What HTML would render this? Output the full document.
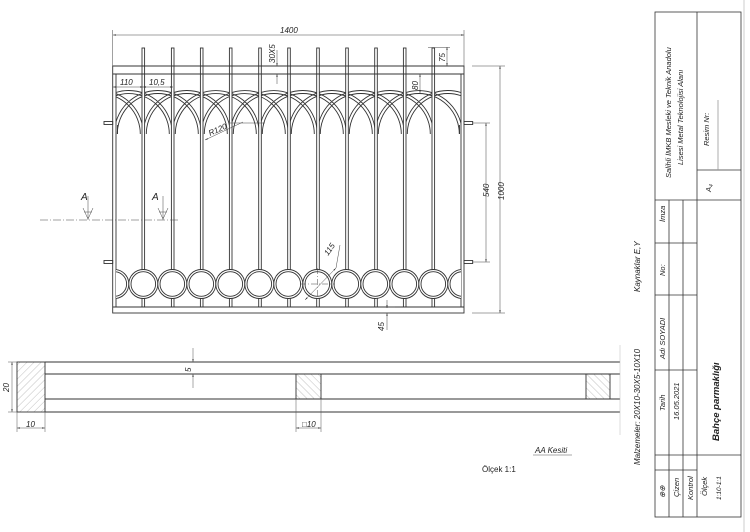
<!DOCTYPE html>
<html><head><meta charset="utf-8"><style>
html,body{margin:0;padding:0;background:#fff}
svg{display:block}
text{font-family:"Liberation Sans",sans-serif;font-style:italic;fill:#222}
</style></head><body>
<svg width="750" height="532" viewBox="0 0 750 532" xmlns="http://www.w3.org/2000/svg">
<defs>
<marker id="a" viewBox="0 0 10 10" refX="10" refY="5" markerWidth="6" markerHeight="6" orient="auto-start-reverse"><path d="M0,3 L10,5 L0,7 z" fill="#222"/></marker>
<clipPath id="in"><rect x="116" y="74" width="345" height="234"/></clipPath>
<pattern id="h1" width="5" height="5" patternUnits="userSpaceOnUse" patternTransform="rotate(45)"><line x1="0" y1="0" x2="0" y2="5" stroke="#999" stroke-width="0.6"/></pattern>
<pattern id="h2" width="5" height="5" patternUnits="userSpaceOnUse" patternTransform="rotate(-45)"><line x1="0" y1="0" x2="0" y2="5" stroke="#999" stroke-width="0.6"/></pattern>
</defs>
<g stroke="#333" stroke-width="0.9" fill="none">
<!-- frame -->
<rect x="112.7" y="66" width="351.3" height="247"/>
<line x1="112.7" y1="74" x2="464" y2="74"/>
<line x1="112.7" y1="307" x2="464" y2="307"/>
<line x1="116" y1="74" x2="116" y2="307"/>
<line x1="461" y1="74" x2="461" y2="307"/>
<!-- tabs -->
<rect x="104" y="121.5" width="8.7" height="3"/>
<rect x="104" y="260.5" width="8.7" height="3"/>
<rect x="464" y="121.5" width="8.7" height="3"/>
<rect x="464" y="260.5" width="8.7" height="3"/>
<!-- arches -->
<g clip-path="url(#in)">
<path d="M56.3,134 A43.5,43.5 0 0 1 143.3,134 M85.3,134 A43.5,43.5 0 0 1 172.3,134 M114.3,134 A43.5,43.5 0 0 1 201.3,134 M143.3,134 A43.5,43.5 0 0 1 230.3,134 M172.3,134 A43.5,43.5 0 0 1 259.3,134 M201.3,134 A43.5,43.5 0 0 1 288.3,134 M230.3,134 A43.5,43.5 0 0 1 317.3,134 M259.3,134 A43.5,43.5 0 0 1 346.3,134 M288.3,134 A43.5,43.5 0 0 1 375.3,134 M317.3,134 A43.5,43.5 0 0 1 404.3,134 M346.3,134 A43.5,43.5 0 0 1 433.3,134 M375.3,134 A43.5,43.5 0 0 1 462.3,134 M404.3,134 A43.5,43.5 0 0 1 491.3,134"/>
<path d="M59.3,134 A40.5,40.5 0 0 1 140.3,134 M88.3,134 A40.5,40.5 0 0 1 169.3,134 M117.3,134 A40.5,40.5 0 0 1 198.3,134 M146.3,134 A40.5,40.5 0 0 1 227.3,134 M175.3,134 A40.5,40.5 0 0 1 256.3,134 M204.3,134 A40.5,40.5 0 0 1 285.3,134 M233.3,134 A40.5,40.5 0 0 1 314.3,134 M262.3,134 A40.5,40.5 0 0 1 343.3,134 M291.3,134 A40.5,40.5 0 0 1 372.3,134 M320.3,134 A40.5,40.5 0 0 1 401.3,134 M349.3,134 A40.5,40.5 0 0 1 430.3,134 M378.3,134 A40.5,40.5 0 0 1 459.3,134 M407.3,134 A40.5,40.5 0 0 1 488.3,134"/>
<line x1="117.5" y1="134" x2="117.5" y2="125"/><line x1="459.5" y1="134" x2="459.5" y2="125"/>
</g>
<!-- pickets -->
<g fill="#fff">
<rect x="142" y="48" width="2.6" height="259"/><rect x="171.4" y="48" width="2.6" height="259"/><rect x="200.4" y="48" width="2.6" height="259"/><rect x="229.4" y="48" width="2.6" height="259"/><rect x="258.7" y="48" width="2.6" height="259"/><rect x="287.7" y="48" width="2.6" height="259"/><rect x="316.7" y="48" width="2.6" height="259"/><rect x="345.7" y="48" width="2.6" height="259"/><rect x="374.7" y="48" width="2.6" height="259"/><rect x="403.4" y="48" width="2.6" height="259"/><rect x="432" y="48" width="2.6" height="259"/>
</g>
<line x1="112.7" y1="74" x2="464" y2="74"/><line x1="112.7" y1="66" x2="464" y2="66"/>
<line x1="112.7" y1="307" x2="464" y2="307"/>
<!-- circles -->
<g clip-path="url(#in)" fill="#fff">
<circle cx="114.3" cy="284" r="14.5"/><circle cx="143.3" cy="284" r="14.5"/><circle cx="172.3" cy="284" r="14.5"/><circle cx="201.3" cy="284" r="14.5"/><circle cx="230.3" cy="284" r="14.5"/><circle cx="259.3" cy="284" r="14.5"/><circle cx="288.3" cy="284" r="14.5"/><circle cx="317.3" cy="284" r="14.5"/><circle cx="346.3" cy="284" r="14.5"/><circle cx="375.3" cy="284" r="14.5"/><circle cx="404.3" cy="284" r="14.5"/><circle cx="433.3" cy="284" r="14.5"/><circle cx="462.3" cy="284" r="14.5"/>
<circle cx="114.3" cy="284" r="12.3"/><circle cx="143.3" cy="284" r="12.3"/><circle cx="172.3" cy="284" r="12.3"/><circle cx="201.3" cy="284" r="12.3"/><circle cx="230.3" cy="284" r="12.3"/><circle cx="259.3" cy="284" r="12.3"/><circle cx="288.3" cy="284" r="12.3"/><circle cx="317.3" cy="284" r="12.3"/><circle cx="346.3" cy="284" r="12.3"/><circle cx="375.3" cy="284" r="12.3"/><circle cx="404.3" cy="284" r="12.3"/><circle cx="433.3" cy="284" r="12.3"/><circle cx="462.3" cy="284" r="12.3"/>
</g>
</g>
<!-- dimensions main -->
<g stroke="#444" stroke-width="0.5" fill="none">
<line x1="112.7" y1="30" x2="112.7" y2="66"/><line x1="464" y1="30" x2="464" y2="66"/>
<line x1="113" y1="35" x2="464" y2="35" marker-start="url(#a)" marker-end="url(#a)"/>
<line x1="472" y1="66" x2="505" y2="66"/><line x1="472" y1="313" x2="505" y2="313"/>
<line x1="500" y1="66" x2="500" y2="313" marker-start="url(#a)" marker-end="url(#a)"/>
<line x1="472" y1="123" x2="490" y2="123"/><line x1="472" y1="262" x2="490" y2="262"/>
<line x1="486" y1="123" x2="486" y2="262" marker-start="url(#a)" marker-end="url(#a)"/>
<line x1="113" y1="87" x2="143" y2="87" marker-start="url(#a)" marker-end="url(#a)"/>
<line x1="143" y1="87" x2="173" y2="87" marker-start="url(#a)" marker-end="url(#a)"/>
<line x1="428" y1="47.5" x2="450" y2="47.5"/>
<line x1="447" y1="47" x2="447" y2="66" marker-start="url(#a)" marker-end="url(#a)"/>
<line x1="420" y1="74" x2="420" y2="93" marker-start="url(#a)" marker-end="url(#a)"/>
<line x1="277" y1="50" x2="277" y2="66" marker-end="url(#a)"/><line x1="277" y1="84" x2="277" y2="74" marker-end="url(#a)"/>
<line x1="387" y1="330" x2="387" y2="313" marker-end="url(#a)"/><line x1="387" y1="300" x2="387" y2="308" marker-end="url(#a)"/><line x1="388" y1="307" x2="395" y2="307"/>
<line x1="205" y1="140" x2="243" y2="122" marker-start="url(#a)"/><line x1="230" y1="123" x2="265" y2="123"/>
<line x1="305" y1="300" x2="336" y2="268" marker-start="url(#a)" marker-end="url(#a)"/>
<line x1="336" y1="268" x2="340" y2="245"/>
<line x1="300" y1="284" x2="335" y2="284" stroke-dasharray="6 2 1 2"/><line x1="317.3" y1="268" x2="317.3" y2="300" stroke-dasharray="6 2 1 2"/>
<!-- section A line -->
<line x1="40" y1="220" x2="180" y2="220" stroke-dasharray="8 2 1 2"/>
<line x1="88" y1="196" x2="88" y2="220"/><line x1="163" y1="196" x2="163" y2="220"/>
<path d="M83,208 L88,219 L93,208 M84,212 H92 M158,208 L163,219 L168,208 M159,212 H167"/>
</g>
<g font-size="8">
<text x="280" y="33">1400</text>
<text transform="translate(504,200) rotate(-90)">1000</text>
<text transform="translate(489,197) rotate(-90)">540</text>
<text x="120" y="85">110</text><text x="149" y="85">10,5</text>
<text transform="translate(445,62) rotate(-90)">75</text>
<text transform="translate(418,90) rotate(-90)">80</text>
<text transform="translate(275,63) rotate(-90)">30X5</text>
<text transform="translate(384,331) rotate(-90)">45</text>
<text transform="translate(210,136) rotate(-24)">R120</text>
<text transform="translate(328,256) rotate(-55)">115</text>
<text x="81" y="200" font-size="10">A</text><text x="152" y="200" font-size="10">A</text>
</g>
<!-- section view -->
<g stroke="#333" stroke-width="0.9" fill="none">
<rect x="17" y="362" width="28" height="50" fill="url(#h1)"/>
<line x1="45" y1="362" x2="620" y2="362"/><line x1="45" y1="374" x2="620" y2="374"/>
<line x1="45" y1="399" x2="620" y2="399"/><line x1="45" y1="412" x2="620" y2="412"/>
<rect x="296" y="374" width="25" height="25" fill="url(#h2)"/>
<rect x="586" y="374" width="24" height="25" fill="url(#h2)"/>
</g>
<g stroke="#555" stroke-width="0.5" fill="none">
<line x1="620" y1="345" x2="620" y2="435" stroke="#bbb"/>
<line x1="8" y1="362" x2="17" y2="362"/><line x1="8" y1="412" x2="17" y2="412"/>
<line x1="12" y1="362" x2="12" y2="412" marker-start="url(#a)" marker-end="url(#a)"/>
<line x1="17" y1="412" x2="17" y2="432"/><line x1="45" y1="412" x2="45" y2="432"/>
<line x1="17" y1="428" x2="45" y2="428" marker-start="url(#a)" marker-end="url(#a)"/>
<line x1="296" y1="399" x2="296" y2="432"/><line x1="321" y1="399" x2="321" y2="432"/>
<line x1="296" y1="428" x2="321" y2="428" marker-start="url(#a)" marker-end="url(#a)"/>
<line x1="193" y1="348" x2="193" y2="362" marker-end="url(#a)"/><line x1="193" y1="388" x2="193" y2="374" marker-end="url(#a)"/>
<line x1="533" y1="455" x2="572" y2="455"/>
</g>
<g font-size="8">
<text transform="translate(9,392) rotate(-90)">20</text>
<text x="26" y="427">10</text>
<text x="302" y="427">□10</text>
<text transform="translate(191,372) rotate(-90)">5</text>
<text x="535" y="453">AA Kesiti</text>
<text x="482" y="472" style="font-style:normal">Ölçek 1:1</text>
<text transform="translate(640,465) rotate(-90)">Malzemeler: 20X10-30X5-10X10</text>
<text transform="translate(640,292) rotate(-90)">Kaynaklar E,Y</text>
</g>
<!-- title block -->
<g stroke="#333" stroke-width="0.8" fill="none">
<rect x="655" y="12" width="86" height="505"/>
<line x1="697" y1="12" x2="697" y2="517"/>
<line x1="655" y1="200" x2="741" y2="200"/>
<line x1="697" y1="170" x2="741" y2="170"/>
<line x1="669" y1="200" x2="669" y2="517"/><line x1="683" y1="200" x2="683" y2="517"/>
<line x1="655" y1="243" x2="697" y2="243"/><line x1="655" y1="295" x2="697" y2="295"/>
<line x1="655" y1="370" x2="697" y2="370"/><line x1="655" y1="455" x2="741" y2="455"/>
<line x1="655" y1="470" x2="697" y2="470"/>
<line x1="718" y1="100" x2="718" y2="170" stroke="#999"/>
</g>
<line x1="744" y1="0" x2="744" y2="532" stroke="#aaa" stroke-width="0.6"/>
<g font-size="7.5">
<text transform="translate(671,178) rotate(-90)">Salihli İMKB Mesleki ve Teknik Anadolu</text>
<text transform="translate(683,165) rotate(-90)">Lisesi Metal Teknolojisi Alanı</text>
<text transform="translate(709,146) rotate(-90)">Resim Nr:</text>
<text transform="translate(711,192) rotate(-90)">A<tspan font-size="5" dy="2">4</tspan></text>
<text transform="translate(665,222) rotate(-90)">İmza</text>
<text transform="translate(665,276) rotate(-90)">No:</text>
<text transform="translate(665,359) rotate(-90)">Adı SOYADI</text>
<text transform="translate(665,411) rotate(-90)">Tarih</text>
<text transform="translate(679,420) rotate(-90)">16.05.2021</text>
<text transform="translate(665,498) rotate(-90)" fill="#888">⊕⊕</text>
<text transform="translate(679,497) rotate(-90)">Çizen</text>
<text transform="translate(693,500) rotate(-90)">Kontrol</text>
<text transform="translate(707,496) rotate(-90)">Ölçek</text>
<text transform="translate(721,500) rotate(-90)" font-size="6.5">1:10-1:1</text>
<text transform="translate(719,441) rotate(-90)" font-size="9.5" font-weight="bold">Bahçe parmaklığı</text>
</g>
</svg>
</body></html>
